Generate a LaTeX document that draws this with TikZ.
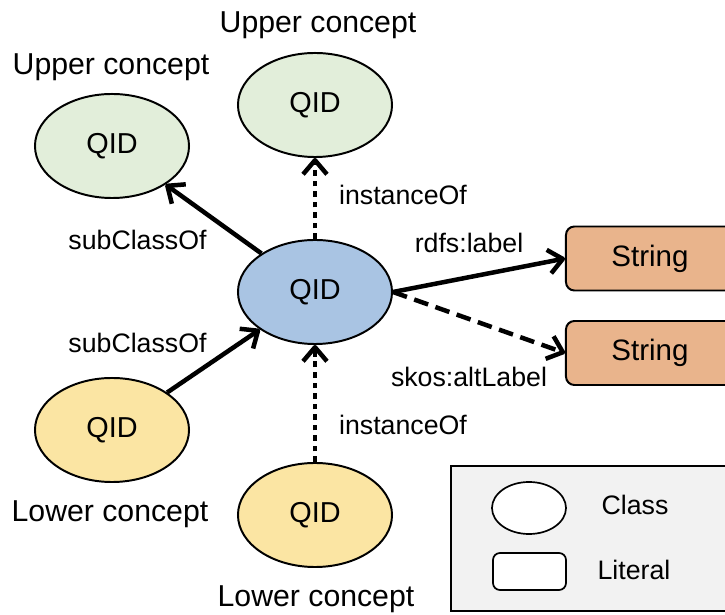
\documentclass[tikz,border=0pt]{standalone}
\usepackage{fontspec}
\setmainfont{Liberation Sans}
\usepackage{tikz}
\usetikzlibrary{shapes.geometric, arrows.meta}
\definecolor{classblue}{HTML}{A9C4E3}
\definecolor{uppergreen}{HTML}{E2EEDA}
\definecolor{loweryellow}{HTML}{FBE5A3}
\definecolor{litorange}{HTML}{E9B48C}
\definecolor{legendgray}{HTML}{F2F2F2}
\tikzset{qid/.style={ellipse,draw,line width=1.4pt,minimum width=3.85cm,minimum height=2.6cm,inner sep=0pt,font=\fontsize{20.5}{24}\selectfont},
         literal/.style={rectangle,draw,line width=1.4pt,rounded corners=6pt,fill=litorange,minimum width=4.2cm,minimum height=1.6cm,inner sep=0pt,font=\fontsize{21}{25}\selectfont},
         concept/.style={anchor=base,font=\fontsize{21.5}{26}\selectfont},
         edgelabel/.style={anchor=base,font=\fontsize{19}{23}\selectfont},
         legendshape/.style={draw,line width=1.2pt,fill=white,inner sep=0pt},
         rel/.style={-{Straight Barb[length=10pt,width=17pt,line join=round]},line width=3.2pt},
         inst/.style={rel,dash pattern=on 4pt off 3.5pt},
         alt/.style={rel,dash pattern=on 10.5pt off 5.5pt}}
\begin{document}
\begin{tikzpicture}[x=0.025cm,y=-0.025cm]
    \useasboundingbox (0,0) rectangle (725,615);
    % legend
    \node (legend) [draw,line width=1.2pt,fill=legendgray,anchor=north west,inner sep=0pt,minimum width=7.25cm,minimum height=3.625cm] at (450,465) {};
    \node (lgclass) [legendshape,ellipse,minimum width=1.85cm,minimum height=1.3cm] at (529,508) {};
    \node (lglit) [legendshape,rounded corners=5pt,minimum width=1.825cm,minimum height=0.925cm] at (529.5,571.5) {};
    \node (lgclasstxt) [edgelabel] at (635,515) {Class};
    \node (lglittxt) [edgelabel] at (634,580) {Literal};
    % classes
    \node (c) [qid,fill=classblue] at (315,292) {QID};
    \node (up1) [qid,fill=uppergreen] at (112,146) {QID};
    \node (up2) [qid,fill=uppergreen] at (315,105) {QID};
    \node (low1) [qid,fill=loweryellow] at (112,430) {QID};
    \node (low2) [qid,fill=loweryellow] at (315,515) {QID};
    \node (up1lbl) [concept] at (111,75) {Upper concept};
    \node (up2lbl) [concept] at (318,33) {Upper concept};
    \node (low1lbl) [concept] at (110,522) {Lower concept};
    \node (low2lbl) [concept] at (316,607) {Lower concept};
    % literals
    \node (str1) [literal] at (650,258.5) {String};
    \node (str2) [literal] at (650,353) {String};
    % relations
    \draw[rel] (c) -- (up1);
    \draw[inst] (c) -- (up2);
    \draw[rel] (low1) -- (c);
    \draw[inst] (low2) -- (c);
    \draw[rel] (c.east) -- (str1.west);
    \draw[alt] (c.east) -- (str2.west);
    \node (sub1) [edgelabel] at (137.5,250) {subClassOf};
    \node (sub2) [edgelabel] at (137.5,353) {subClassOf};
    \node (inst1) [edgelabel] at (403,205) {instanceOf};
    \node (inst2) [edgelabel] at (403,435) {instanceOf};
    \node (rdfs) [edgelabel] at (469,253) {rdfs:label};
    \node (skos) [edgelabel] at (469,387) {skos:altLabel};
\end{tikzpicture}
\end{document}
